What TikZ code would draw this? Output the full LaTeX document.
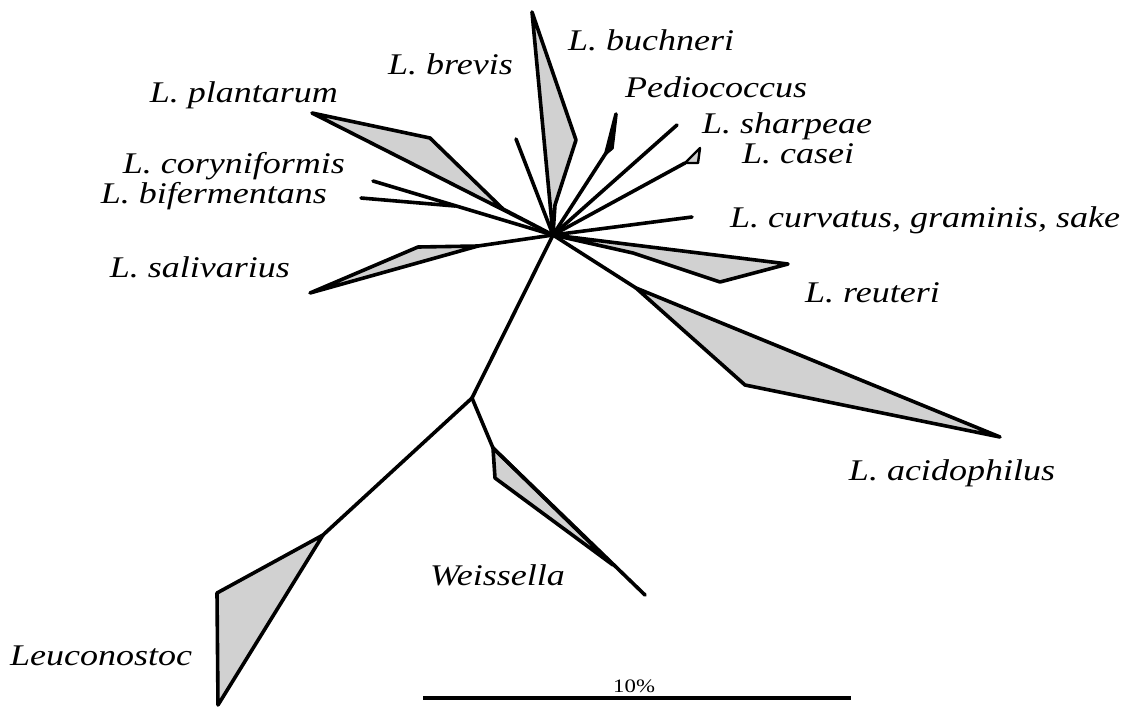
\documentclass[tikz,border=0pt]{standalone}
\usepackage{fontspec}
\setmainfont{Liberation Serif}
\newfontfamily\labfont[FakeStretch=1.2]{Liberation Serif}
\begin{document}
\begin{tikzpicture}[x=1pt,y=-1pt,
  br/.style={line width=3.6pt, line join=round, line cap=round},
  clade/.style={br, fill=black!18},
  lab/.style={font=\labfont\itshape\fontsize{30}{36}\selectfont, inner sep=0pt},
  scalelab/.style={font=\labfont\fontsize{19}{22}\selectfont, inner sep=0pt}]
\useasboundingbox[fill=white] (0,0) rectangle (1128,713);
% coordinates
\coordinate (hub) at (553,235);
\coordinate (bu1) at (532,12);
\coordinate (bu2) at (576,140);
\coordinate (bu3) at (555,205);
\coordinate (bv) at (516,139);
\coordinate (pl1) at (312,113);
\coordinate (pl2) at (430,138);
\coordinate (pl3) at (503,209);
\coordinate (co) at (373,181);
\coordinate (bf1) at (361,198);
\coordinate (bf0) at (455,206);
\coordinate (sa0) at (478,246);
\coordinate (sa1) at (310,293);
\coordinate (sa2) at (418,247);
\coordinate (pe0) at (606,153);
\coordinate (pe1) at (616,114);
\coordinate (pe2) at (612,148);
\coordinate (sh) at (677,125);
\coordinate (ca0) at (685,163);
\coordinate (ca1) at (700,148);
\coordinate (ca2) at (698,163);
\coordinate (cu) at (692,217);
\coordinate (re0) at (633,253);
\coordinate (re1) at (788,264);
\coordinate (re2) at (720,282);
\coordinate (ac0) at (636,288);
\coordinate (ac1) at (1000,437);
\coordinate (ac2) at (745,385);
\coordinate (nd) at (472,398);
\coordinate (le0) at (323,535);
\coordinate (le1) at (217,593);
\coordinate (le2) at (218,705);
\coordinate (we0) at (493,448);
\coordinate (we1) at (645,595);
\coordinate (we2) at (495,478);
\coordinate (we3) at (613,565);
\coordinate (sb1) at (423,698);
\coordinate (sb2) at (851,698);
% clades
\filldraw[clade] (hub) -- (bu1) -- (bu2) -- (bu3) -- cycle;
\filldraw[clade] (hub) -- (pl1) -- (pl2) -- (pl3) -- cycle;
\draw[br] (hub) -- (sa0);
\filldraw[clade] (sa0) -- (sa2) -- (sa1) -- cycle;
\filldraw[clade] (hub) -- (re1) -- (re2) -- (re0) -- cycle;
\draw[br] (hub) -- (ac0);
\filldraw[clade] (ac0) -- (ac1) -- (ac2) -- cycle;
\draw[br] (hub) -- (pe0);
\filldraw[br, fill=black] (pe0) -- (pe1) -- (pe2) -- cycle;
\draw[br] (hub) -- (sh);
\draw[br] (hub) -- (ca0);
\filldraw[clade, line width=2.4pt] (ca0) -- (ca1) -- (ca2) -- cycle;
\draw[br] (hub) -- (cu);
\draw[br] (hub) -- (bv);
\draw[br] (hub) -- (co);
\draw[br] (bf1) -- (bf0);
\draw[br] (hub) -- (nd);
\draw[br] (nd) -- (le0);
\filldraw[clade] (le0) -- (le1) -- (le2) -- cycle;
\draw[br] (nd) -- (we0);
\filldraw[clade] (we0) -- (we3) -- (we2) -- cycle;
\draw[br] (we0) -- (we1);
\draw[br, line cap=butt] (sb1) -- (sb2);
% labels
\node[lab, anchor=base west] (tbuchneri) at (568,50) {L. buchneri};
\node[lab, anchor=base east] (tbrevis) at (513,74) {L. brevis};
\node[lab, anchor=base east] (tplantarum) at (338,102) {L. plantarum};
\node[lab, anchor=base west] (tpedio) at (625,97) {Pediococcus};
\node[lab, anchor=base west] (tsharpeae) at (702,133) {L. sharpeae};
\node[lab, anchor=base west] (tcasei) at (742,163) {L. casei};
\node[lab, anchor=base east] (tcoryn) at (345,173) {L. coryniformis};
\node[lab, anchor=base east] (tbiferm) at (327,203) {L. bifermentans};
\node[lab, anchor=base west] (tcurv) at (730,227) {L. curvatus, graminis, sake};
\node[lab, anchor=base east] (tsaliv) at (290,277) {L. salivarius};
\node[lab, anchor=base west] (treuteri) at (805,302) {L. reuteri};
\node[lab, anchor=base] (tacid) at (952,480) {L. acidophilus};
\node[lab, anchor=base west] (tweiss) at (430,585) {Weissella};
\node[lab, anchor=base west] (tleuco) at (10,665) {Leuconostoc};
\node[scalelab, anchor=base west] (tscale) at (613,692) {10\%};
\end{tikzpicture}
\end{document}
